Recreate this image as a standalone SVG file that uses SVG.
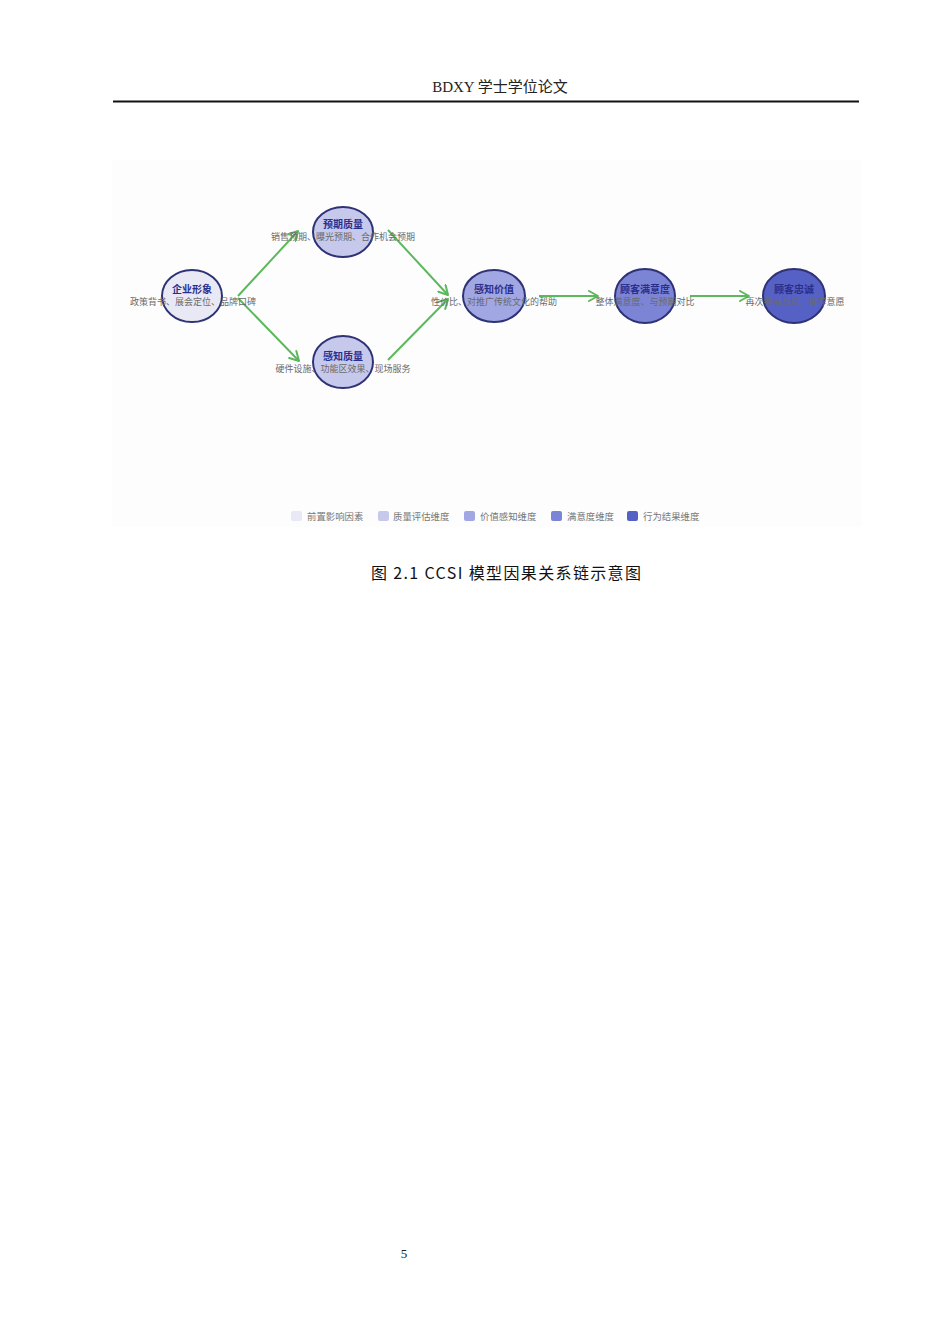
<svg xmlns="http://www.w3.org/2000/svg" width="950" height="1344" viewBox="0 0 950 1344">
<defs>
<marker id="arr" viewBox="0 0 12 12" refX="10" refY="6" markerWidth="12" markerHeight="12" markerUnits="userSpaceOnUse" orient="auto">
<path d="M1,1 L10,6 L1,11" fill="none" stroke="#5cb85c" stroke-width="2" stroke-linecap="round" stroke-linejoin="round"/>
</marker>
<style>
.node{stroke:#2f3275;stroke-width:2}
.ttl{font-family:"Noto Sans CJK SC",sans-serif;font-size:10px;font-weight:bold;fill:#2b2f8c;text-anchor:middle}
.sub{font-family:"Noto Sans CJK SC",sans-serif;font-size:9px;fill:#6a6a6a;text-anchor:middle}
.lg{font-family:"Noto Sans CJK SC",sans-serif;font-size:9.4px;fill:#777}
.edge{fill:none;stroke:#5cb85c;stroke-width:2;marker-end:url(#arr)}
</style>
</defs>
<rect width="950" height="1344" fill="#ffffff"/>
<g id="header">
<text x="500" y="92" font-family="'Liberation Serif','Noto Sans CJK SC',serif" font-size="15" fill="#222" text-anchor="middle">BDXY 学士学位论文</text>
<line x1="113" y1="101.5" x2="859" y2="101.5" stroke="#111" stroke-width="2"/>
</g>
<rect x="112" y="160" width="750" height="367" fill="#fdfdfe"/>
<g id="connectors">
<path class="edge" d="M238,296 L298,231"/>
<path class="edge" d="M238,298 L299,361"/>
<path class="edge" d="M388,230 L448,295"/>
<path class="edge" d="M388,360 L448,299"/>
<path class="edge" d="M539,296 L598,296"/>
<path class="edge" d="M690,296 L749,296"/>
</g>
<g id="n-qiye">
<ellipse class="node" cx="192" cy="296" rx="30" ry="26" fill="#e9e9f6"/>
<text class="ttl" x="192" y="293">企业形象</text>
<text class="sub" x="193" y="305">政策背书、展会定位、品牌口碑</text>
</g>
<g id="n-yuqi">
<ellipse class="node" cx="343" cy="232" rx="30" ry="25" fill="#c6c9ec"/>
<text class="ttl" x="343" y="228">预期质量</text>
<text class="sub" x="343" y="240">销售预期、曝光预期、合作机会预期</text>
</g>
<g id="n-ganzhi">
<ellipse class="node" cx="343" cy="362" rx="30" ry="26" fill="#c6c9ec"/>
<text class="ttl" x="343" y="360">感知质量</text>
<text class="sub" x="343" y="372">硬件设施、功能区效果、现场服务</text>
</g>
<g id="n-jiazhi">
<ellipse class="node" cx="494" cy="296" rx="31" ry="26" fill="#a1a7e2"/>
<text class="ttl" x="494" y="293">感知价值</text>
<text class="sub" x="494" y="305">性价比、对推广传统文化的帮助</text>
</g>
<g id="n-manyi">
<ellipse class="node" cx="645" cy="296" rx="30" ry="27" fill="#7c84d6"/>
<text class="ttl" x="645" y="293">顾客满意度</text>
<text class="sub" x="645" y="305">整体满意度、与预期对比</text>
</g>
<g id="n-zhongcheng">
<ellipse class="node" cx="794" cy="296" rx="31" ry="27" fill="#5661c5"/>
<text class="ttl" x="794" y="293">顾客忠诚</text>
<text class="sub" x="795" y="305">再次参展意愿、推荐意愿</text>
</g>
<g id="legend">
<rect x="291" y="511" width="11" height="10" rx="2" fill="#e9e9f6"/>
<text class="lg" x="307" y="520">前置影响因素</text>
<rect x="378" y="511" width="11" height="10" rx="2" fill="#c6c9ec"/>
<text class="lg" x="393" y="520">质量评估维度</text>
<rect x="464" y="511" width="11" height="10" rx="2" fill="#a1a7e2"/>
<text class="lg" x="480" y="520">价值感知维度</text>
<rect x="551" y="511" width="11" height="10" rx="2" fill="#7c84d6"/>
<text class="lg" x="567" y="520">满意度维度</text>
<rect x="627" y="511" width="11" height="10" rx="2" fill="#5661c5"/>
<text class="lg" x="643" y="520">行为结果维度</text>
</g>
<g id="caption">
<text x="371" y="579" font-family="'Noto Sans CJK SC',sans-serif" font-size="16" fill="#111" textLength="270" lengthAdjust="spacing">图 2.1 CCSI 模型因果关系链示意图</text>
</g>
<g id="page">
<text x="404" y="1258" font-family="'Liberation Serif',serif" font-size="13" fill="#222" text-anchor="middle">5</text>
</g>
</svg>
